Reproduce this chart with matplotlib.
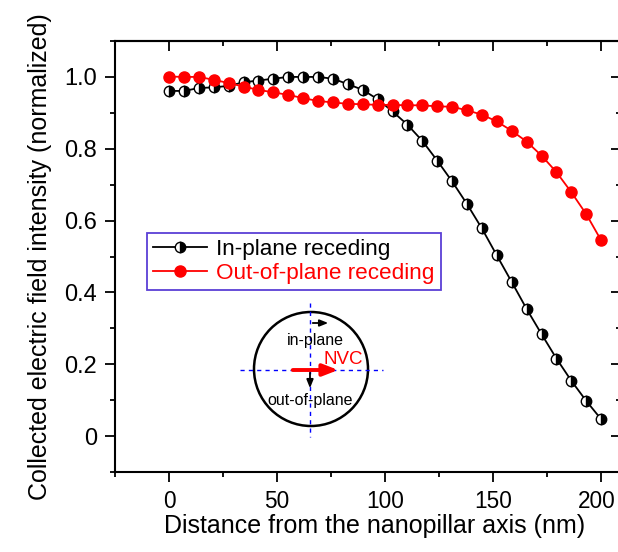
import numpy as np
import matplotlib
matplotlib.use('Agg')
import matplotlib.pyplot as plt
import matplotlib.transforms as mtransforms
from matplotlib.patches import Circle
from matplotlib.ticker import MultipleLocator, FuncFormatter

plt.rcParams['font.family'] = ['Liberation Sans', 'DejaVu Sans']

# Distance from the nanopillar axis (nm), 30 samples from 0 to 200
distance = np.linspace(0, 200, 30)

in_plane = [0.961, 0.961, 0.969, 0.971, 0.975, 0.985, 0.990, 0.995, 1.000, 1.000,
            1.000, 0.995, 0.980, 0.964, 0.938, 0.904, 0.867, 0.822, 0.767, 0.709,
            0.646, 0.578, 0.503, 0.429, 0.354, 0.284, 0.216, 0.154, 0.098, 0.047]

out_of_plane = [1.001, 1.000, 1.000, 0.992, 0.983, 0.973, 0.964, 0.957, 0.950, 0.941,
                0.933, 0.929, 0.925, 0.924, 0.922, 0.922, 0.921, 0.921, 0.918, 0.917,
                0.907, 0.895, 0.876, 0.850, 0.820, 0.781, 0.735, 0.679, 0.618, 0.545]

series_labels = ['In-plane receding', 'Out-of-plane receding']

W, H = 618, 552
fig = plt.figure(figsize=(W / 100, H / 100), dpi=100)

# main axes placed in pixel terms (right spine falls just outside the picture)
x0, x1, ytop, ybot = 115, 621, 41, 472
ax = fig.add_axes([x0 / W, 1 - ybot / H, (x1 - x0) / W, (ybot - ytop) / H])

ax.plot(distance, in_plane, color='black', lw=1.3, marker='o', ms=7.5,
        fillstyle='right', markerfacecolor='black', markerfacecoloralt='white',
        markeredgecolor='black', markeredgewidth=1.0, label=series_labels[0], zorder=3)
ax.plot(distance, out_of_plane, color='red', lw=1.3, marker='o', ms=8,
        markerfacecolor='red', markeredgecolor='red', label=series_labels[1], zorder=4)

ax.set_xlim(-25, 209.2)
ax.set_ylim(-0.1, 1.1)
ax.xaxis.set_major_locator(MultipleLocator(50))
ax.xaxis.set_minor_locator(MultipleLocator(25))
ax.yaxis.set_major_locator(MultipleLocator(0.2))
ax.yaxis.set_minor_locator(MultipleLocator(0.1))
ax.yaxis.set_major_formatter(FuncFormatter(lambda v, p: '0' if abs(v) < 1e-9 else '%.1f' % v))

for s in ax.spines.values():
    s.set_linewidth(1.5)

ax.tick_params(which='both', width=1.3, pad=6)
ax.tick_params(axis='x', labelsize=16.3)
ax.tick_params(axis='y', labelsize=17)
ax.tick_params(axis='both', which='major', length=7)
ax.tick_params(axis='both', which='minor', length=3.5)
ax.tick_params(axis='x', which='both', direction='out', top=False)
ax.tick_params(axis='y', which='both', direction='out', right=False)

# mirrored ticks on top and right, pointing inward
top = ax.secondary_xaxis('top')
top.set_xticks(ax.get_xticks())
top.xaxis.set_minor_locator(MultipleLocator(25))
top.tick_params(which='both', direction='in', labeltop=False, width=1.3)
top.tick_params(which='major', length=7)
top.tick_params(which='minor', length=3.5)
top.spines['top'].set_linewidth(1.5)
right = ax.secondary_yaxis('right')
right.yaxis.set_major_locator(MultipleLocator(0.2))
right.yaxis.set_minor_locator(MultipleLocator(0.1))
right.tick_params(which='both', direction='in', labelright=False, width=1.3)
right.tick_params(which='major', length=7)
right.tick_params(which='minor', length=3.5)

# nudge the "200" label a few pixels so it stays inside the picture
fig.canvas.draw()
for lbl in ax.get_xticklabels():
    if lbl.get_text() == '200':
        lbl.set_transform(lbl.get_transform() + mtransforms.ScaledTranslation(-4 / 100, 0, fig.dpi_scale_trans))

ax.set_xlabel('Distance from the nanopillar axis (nm)', fontsize=18, labelpad=3)
ax.xaxis.set_label_coords((375 - x0) / (x1 - x0), -0.097)
ax.xaxis.label.set_verticalalignment('top')
ax.set_ylabel('Collected electric field intensity (normalized)', fontsize=18, labelpad=9)

leg = ax.legend(loc='upper left', bbox_to_anchor=((147 - x0) / (x1 - x0), (ybot - 233) / (ybot - ytop)),
                borderaxespad=0, fontsize=16.2, fancybox=False, handlelength=2.4,
                handletextpad=0.4, borderpad=0.28, labelspacing=0.12, framealpha=1)
leg.get_frame().set_edgecolor('#5a3fd6')
leg.get_frame().set_linewidth(1.3)
leg.get_texts()[1].set_color('red')

# inset sketch drawn in pixel coordinates
ix0, ix1, iy0, iy1 = 230, 400, 295, 445
inset = fig.add_axes([ix0 / W, 1 - iy1 / H, (ix1 - ix0) / W, (iy1 - iy0) / H])
inset.set_xlim(ix0, ix1)
inset.set_ylim(iy1, iy0)
inset.set_aspect('equal')
inset.axis('off')
inset.add_patch(Circle((311, 369), 57, fill=False, ec='black', lw=1.8))
inset.plot([240, 383], [370, 370], color='blue', ls=(0, (3, 3)), lw=1)
inset.plot([310, 310], [303, 437], color='blue', ls=(0, (3, 3)), lw=1)
inset.annotate('', xy=(341, 370), xytext=(290, 370),
               arrowprops=dict(arrowstyle='-|>,head_length=0.9,head_width=0.35', color='red', lw=2.8))
inset.annotate('', xy=(331, 323), xytext=(310, 323),
               arrowprops=dict(arrowstyle='-|>,head_length=0.5,head_width=0.2', color='black', lw=1.3))
inset.annotate('', xy=(310, 391), xytext=(310, 370),
               arrowprops=dict(arrowstyle='-|>,head_length=0.5,head_width=0.2', color='black', lw=1.3))
inset.text(315, 341, 'in-plane', ha='center', va='center', fontsize=11.5)
inset.text(343, 359, 'NVC', ha='center', va='center', fontsize=13.5, color='red')
inset.text(310, 400, 'out-of-plane', ha='center', va='center', fontsize=11.5)

fig.savefig('out.png', dpi=100)
